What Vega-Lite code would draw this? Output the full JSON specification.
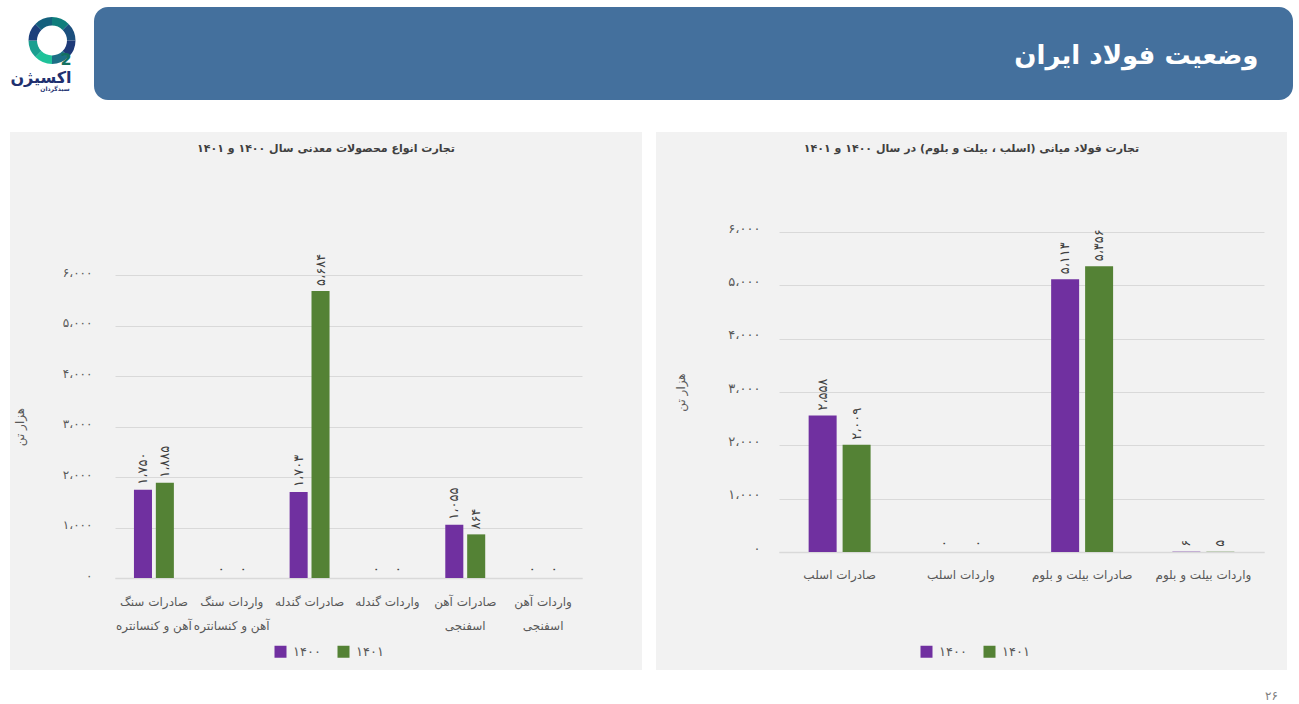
{
  "$schema": "https://vega.github.io/schema/vega-lite/v6.json",
  "padding": {"left": 10, "top": 7, "right": 0, "bottom": 0},
  "background": "white",
  "spacing": 32,
  "resolve": {"scale": {"color": "independent", "xOffset": "independent"}},
  "config": {
    "font": "DejaVu Sans",
    "view": {"stroke": null},
    "axis": {"labelFont": "DejaVu Sans", "titleFont": "DejaVu Sans"},
    "legend": {"labelFont": "DejaVu Sans"},
    "title": {"font": "DejaVu Sans"}
  },
  "datasets": {
    "ring": [
      {"part": "a", "share": 1},
      {"part": "b", "share": 1},
      {"part": "c", "share": 1},
      {"part": "d", "share": 1},
      {"part": "e", "share": 1},
      {"part": "f", "share": 1},
      {"part": "g", "share": 1},
      {"part": "h", "share": 1}
    ],
    "left": [
      {"item": "صادرات سنگ|آهن و کنسانتره", "year": "۱۴۰۰", "value": 1750, "label": "۱،۷۵۰"},
      {"item": "صادرات سنگ|آهن و کنسانتره", "year": "۱۴۰۱", "value": 1885, "label": "۱،۸۸۵"},
      {"item": "واردات سنگ|آهن و کنسانتره", "year": "۱۴۰۰", "value": 0, "label": "۰"},
      {"item": "واردات سنگ|آهن و کنسانتره", "year": "۱۴۰۱", "value": 0, "label": "۰"},
      {"item": "صادرات گندله", "year": "۱۴۰۰", "value": 1703, "label": "۱،۷۰۳"},
      {"item": "صادرات گندله", "year": "۱۴۰۱", "value": 5684, "label": "۵،۶۸۴"},
      {"item": "واردات گندله", "year": "۱۴۰۰", "value": 0, "label": "۰"},
      {"item": "واردات گندله", "year": "۱۴۰۱", "value": 0, "label": "۰"},
      {"item": "صادرات آهن|اسفنجی", "year": "۱۴۰۰", "value": 1055, "label": "۱،۰۵۵"},
      {"item": "صادرات آهن|اسفنجی", "year": "۱۴۰۱", "value": 864, "label": "۸۶۴"},
      {"item": "واردات آهن|اسفنجی", "year": "۱۴۰۰", "value": 0, "label": "۰"},
      {"item": "واردات آهن|اسفنجی", "year": "۱۴۰۱", "value": 0, "label": "۰"}
    ],
    "right": [
      {"item": "صادرات اسلب", "year": "۱۴۰۰", "value": 2558, "label": "۲،۵۵۸"},
      {"item": "صادرات اسلب", "year": "۱۴۰۱", "value": 2009, "label": "۲،۰۰۹"},
      {"item": "واردات اسلب", "year": "۱۴۰۰", "value": 0, "label": "۰"},
      {"item": "واردات اسلب", "year": "۱۴۰۱", "value": 0, "label": "۰"},
      {"item": "صادرات بیلت و بلوم", "year": "۱۴۰۰", "value": 5113, "label": "۵،۱۱۳"},
      {"item": "صادرات بیلت و بلوم", "year": "۱۴۰۱", "value": 5356, "label": "۵،۳۵۶"},
      {"item": "واردات بیلت و بلوم", "year": "۱۴۰۰", "value": 6, "label": "۶"},
      {"item": "واردات بیلت و بلوم", "year": "۱۴۰۱", "value": 5, "label": "۵"}
    ]
  },
  "vconcat": [
    {
      "spacing": 0,
      "resolve": {"scale": {"color": "independent"}},
      "hconcat": [
        {
          "width": 84,
          "height": 67,
          "layer": [
            {
              "data": {"name": "ring"},
              "mark": {"type": "arc", "innerRadius": 15, "outerRadius": 23.5},
              "encoding": {
                "theta": {"field": "share", "type": "quantitative", "stack": true},
                "color": {
                  "field": "part",
                  "type": "nominal",
                  "legend": null,
                  "scale": {
                    "domain": ["a", "b", "c", "d", "e", "f", "g", "h"],
                    "range": ["#0f7d7c", "#1b4f7d", "#1e3a78", "#1c6f86", "#1fc29a", "#1a9f90", "#1c3f7b", "#14607d"]
                  }
                },
                "order": {"field": "part"}
              }
            },
            {
              "data": {"values": [{"name": "2"}]},
              "mark": {"type": "text", "dx": 14, "dy": 19, "fontSize": 16, "fontWeight": "bold", "color": "#14705f"},
              "encoding": {"text": {"field": "name"}}
            },
            {
              "data": {"values": [{"name": "اکسیژن"}]},
              "mark": {"type": "text", "dx": -11, "dy": 37, "fontSize": 16, "fontWeight": "bold", "color": "#20306f"},
              "encoding": {"text": {"field": "name"}}
            },
            {
              "data": {"values": [{"name": "سبدگردان"}]},
              "mark": {"type": "text", "dx": 3, "dy": 48, "fontSize": 6, "fontWeight": "bold", "color": "#20306f"},
              "encoding": {"text": {"field": "name"}}
            }
          ]
        },
        {
          "width": 1199,
          "height": 93,
          "view": {"fill": "#44709d", "cornerRadius": 14, "stroke": null},
          "data": {"values": [{"name": "وضعیت فولاد ایران"}]},
          "mark": {"type": "text", "align": "right", "dx": 565, "dy": 2, "fontSize": 26, "fontWeight": "bold", "color": "white"},
          "encoding": {"text": {"field": "name"}}
        }
      ]
    },
    {
      "spacing": 14,
      "resolve": {"scale": {"color": "independent", "xOffset": "independent"}},
      "hconcat": [
        {
          "width": 632,
          "height": 538,
          "view": {"fill": "#f2f2f2", "stroke": null},
          "title": {"text": "تجارت انواع محصولات معدنی سال ۱۴۰۰ و ۱۴۰۱", "offset": -22, "fontSize": 11, "fontWeight": "bold", "color": "#404040", "anchor": "middle", "frame": "group"},
          "data": {"name": "left"},
          "encoding": {
            "x": {
              "field": "item",
              "type": "nominal",
              "sort": null,
              "scale": {"range": [105, 572], "paddingInner": 0.487, "paddingOuter": 0.2435},
              "axis": {
                "title": null,
                "offset": -92,
                "labelAngle": 0,
                "labelAlign": "center",
                "labelBaseline": "top",
                "labelExpr": "split(datum.label, '|')",
                "labelLineHeight": 24,
                "labelPadding": 18,
                "labelFontSize": 12,
                "labelColor": "#595959",
                "labelLimit": 0,
                "labelOverlap": false,
                "ticks": false,
                "domainColor": "#d9d9d9",
                "domainWidth": 1.5
              }
            },
            "xOffset": {"field": "year", "type": "nominal", "scale": {"paddingInner": 0.176}},
            "y": {
              "field": "value",
              "type": "quantitative",
              "scale": {"domain": [0, 6000], "range": [446, 143]},
              "axis": {
                "title": "هزار تن",
                "titleX": -89,
                "titleFontSize": 12,
                "titleFontWeight": "normal",
                "titleColor": "#595959",
                "offset": -105,
                "values": [0, 1000, 2000, 3000, 4000, 5000, 6000],
                "labelExpr": "{'0':'۰','1000':'۱،۰۰۰','2000':'۲،۰۰۰','3000':'۳،۰۰۰','4000':'۴،۰۰۰','5000':'۵،۰۰۰','6000':'۶،۰۰۰'}[datum.value]",
                "labelPadding": 23,
                "labelOffset": -3,
                "labelFontSize": 12,
                "labelColor": "#595959",
                "ticks": false,
                "domain": false,
                "gridColor": "#d9d9d9",
                "gridWidth": 1.2
              }
            }
          },
          "layer": [
            {
              "mark": {"type": "bar"},
              "encoding": {
                "color": {
                  "field": "year",
                  "type": "nominal",
                  "scale": {"domain": ["۱۴۰۰", "۱۴۰۱"], "range": ["#7030a0", "#548235"]},
                  "legend": {
                    "orient": "none",
                    "legendX": 264,
                    "legendY": 513,
                    "direction": "horizontal",
                    "title": null,
                    "symbolType": "square",
                    "symbolSize": 144,
                    "symbolStrokeWidth": 0,
                    "labelFontSize": 13,
                    "labelColor": "#595959",
                    "labelOffset": 6,
                    "columnPadding": 16
                  }
                }
              }
            },
            {
              "mark": {"type": "text", "angle": -90, "align": "left", "baseline": "middle", "dx": 5, "fontSize": 13, "color": "#404040"},
              "encoding": {"text": {"field": "label"}}
            }
          ]
        },
        {
          "width": 631,
          "height": 538,
          "view": {"fill": "#f2f2f2", "stroke": null},
          "title": {"text": "تجارت فولاد میانی (اسلب ، بیلت و بلوم) در سال ۱۴۰۰ و ۱۴۰۱", "offset": -22, "fontSize": 11, "fontWeight": "bold", "color": "#404040", "anchor": "middle", "frame": "group"},
          "layer": [
            {
              "data": {"values": [{"name": "۲۶"}]},
              "mark": {"type": "text", "dx": 300, "dy": 295, "fontSize": 12, "color": "#7f7f7f"},
              "encoding": {"text": {"field": "name"}}
            },
            {
              "data": {"name": "right"},
              "encoding": {
                "x": {
                  "field": "item",
                  "type": "nominal",
                  "sort": null,
                  "scale": {"range": [123, 608], "paddingInner": 0.489, "paddingOuter": 0.2445},
                  "axis": {
                    "title": null,
                    "offset": -118,
                    "labelAngle": 0,
                    "labelAlign": "center",
                    "labelBaseline": "top",
                    "labelPadding": 17,
                    "labelFontSize": 12,
                    "labelColor": "#595959",
                    "labelLimit": 0,
                    "labelOverlap": false,
                    "ticks": false,
                    "domainColor": "#d9d9d9",
                    "domainWidth": 1.5
                  }
                },
                "xOffset": {"field": "year", "type": "nominal", "scale": {"paddingInner": 0.176}},
                "y": {
                  "field": "value",
                  "type": "quantitative",
                  "scale": {"domain": [0, 6000], "range": [420, 100]},
                  "axis": {
                    "title": "هزار تن",
                    "titleX": -92,
                    "titleFontSize": 12,
                    "titleFontWeight": "normal",
                    "titleColor": "#595959",
                    "offset": -123,
                    "values": [0, 1000, 2000, 3000, 4000, 5000, 6000],
                    "labelExpr": "{'0':'۰','1000':'۱،۰۰۰','2000':'۲،۰۰۰','3000':'۳،۰۰۰','4000':'۴،۰۰۰','5000':'۵،۰۰۰','6000':'۶،۰۰۰'}[datum.value]",
                    "labelPadding": 19,
                    "labelOffset": -4,
                    "labelFontSize": 13,
                    "labelColor": "#595959",
                    "ticks": false,
                    "domain": false,
                    "gridColor": "#d9d9d9",
                    "gridWidth": 1.2
                  }
                }
              },
              "layer": [
                {
                  "mark": {"type": "bar"},
                  "encoding": {
                    "color": {
                      "field": "year",
                      "type": "nominal",
                      "scale": {"domain": ["۱۴۰۰", "۱۴۰۱"], "range": ["#7030a0", "#548235"]},
                      "legend": {
                        "orient": "none",
                        "legendX": 264,
                        "legendY": 513,
                        "direction": "horizontal",
                        "title": null,
                        "symbolType": "square",
                        "symbolSize": 144,
                        "symbolStrokeWidth": 0,
                        "labelFontSize": 13,
                        "labelColor": "#595959",
                        "labelOffset": 6,
                        "columnPadding": 16
                      }
                    }
                  }
                },
                {
                  "mark": {"type": "text", "angle": -90, "align": "left", "baseline": "middle", "dx": 5, "fontSize": 13, "color": "#404040"},
                  "encoding": {"text": {"field": "label"}}
                }
              ]
            }
          ]
        }
      ]
    }
  ]
}
